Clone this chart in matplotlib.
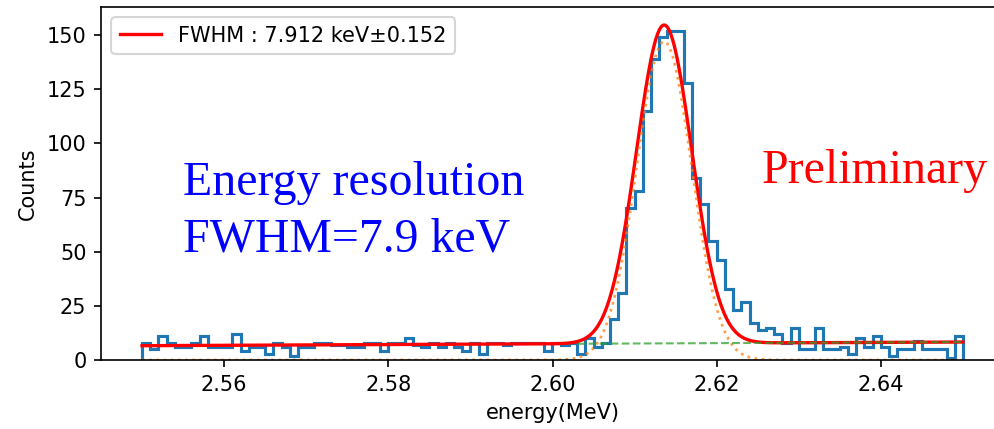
import numpy as np
import matplotlib
matplotlib.use("Agg")
import matplotlib.pyplot as plt

# histogram: 100 bins of 1 keV between 2.55 and 2.65 MeV
bin_lo = 2.55
bin_hi = 2.65
counts = [
    8, 5, 11, 8, 6, 6, 8, 11, 6, 6,        # 2.550
    6, 12, 4, 6, 6, 3, 8, 6, 2, 6,         # 2.560
    6, 8, 8, 7, 7, 6, 6, 8, 8, 4,          # 2.570
    8, 8, 10, 7, 6, 8, 6, 8, 6, 4,         # 2.580
    8, 3, 8, 8, 7, 8, 8, 8, 8, 4,          # 2.590
    8, 7, 8, 3, 10, 6, 8, 19, 31, 70,      # 2.600
    78, 115, 139, 149, 152, 152, 128, 84, 72, 55,  # 2.610
    46, 33, 23, 27, 17, 14, 15, 12, 8, 15,  # 2.620
    5, 5, 15, 5, 5, 6, 3, 10, 6, 11,       # 2.630
    6, 2, 5, 5, 9, 5, 5, 5, 1, 11,         # 2.640
]

# fit result (gaussian + linear background)
fit_mu = 2.6136
fit_fwhm_kev = 7.912
fit_fwhm_err = 0.152
fit_amp = 147.0
bkg_left = 6.6    # at 2.55
bkg_right = 8.3   # at 2.65
bkg_start = 2.603

edges = np.linspace(bin_lo, bin_hi, len(counts) + 1)
sigma = fit_fwhm_kev / 1000 / (2 * np.sqrt(2 * np.log(2)))
xf = np.linspace(bin_lo, bin_hi, 1000)
gauss = fit_amp * np.exp(-0.5 * ((xf - fit_mu) / sigma) ** 2)
bkg = bkg_left + (bkg_right - bkg_left) * (xf - bin_lo) / (bin_hi - bin_lo)

fig = plt.figure(figsize=(994 / 150, 429 / 150), dpi=150)
ax = fig.add_axes([101 / 994, 69 / 429, 903 / 994, 353 / 429])

ax.stairs(counts, edges, color="#1f77b4", linewidth=1.5)
ax.plot(xf, gauss + bkg, color="red", linewidth=1.6,
        label="FWHM : %.3f keV\u00b1%.3f" % (fit_fwhm_kev, fit_fwhm_err))
ax.plot(xf, gauss, color="#ff7f0e", linestyle=":", linewidth=1.3, alpha=0.75)
m = xf >= bkg_start
ax.plot(xf[m], bkg[m], color="#2ca02c", linestyle="--", linewidth=1.0, alpha=0.75)

ax.set_xlim(2.545, 2.655)
ax.set_ylim(0, 163)
ax.set_xticks([2.56, 2.58, 2.60, 2.62, 2.64])
ax.set_yticks([0, 25, 50, 75, 100, 125, 150])
ax.set_xlabel("energy(MeV)")
ax.set_ylabel("Counts")
ax.legend(loc="upper left")

serif = ["Liberation Serif", "DejaVu Serif"]
ax.text(0.0908, 0.467, "Energy resolution", transform=ax.transAxes,
        color="blue", fontsize=23, family=serif, va="baseline")
ax.text(0.0908, 0.306, "FWHM=7.9 keV", transform=ax.transAxes,
        color="blue", fontsize=23, family=serif, va="baseline")
ax.text(0.732, 0.501, "Preliminary", transform=ax.transAxes,
        color="red", fontsize=23, family=serif, va="baseline")

fig.savefig("out.png", dpi=150)
